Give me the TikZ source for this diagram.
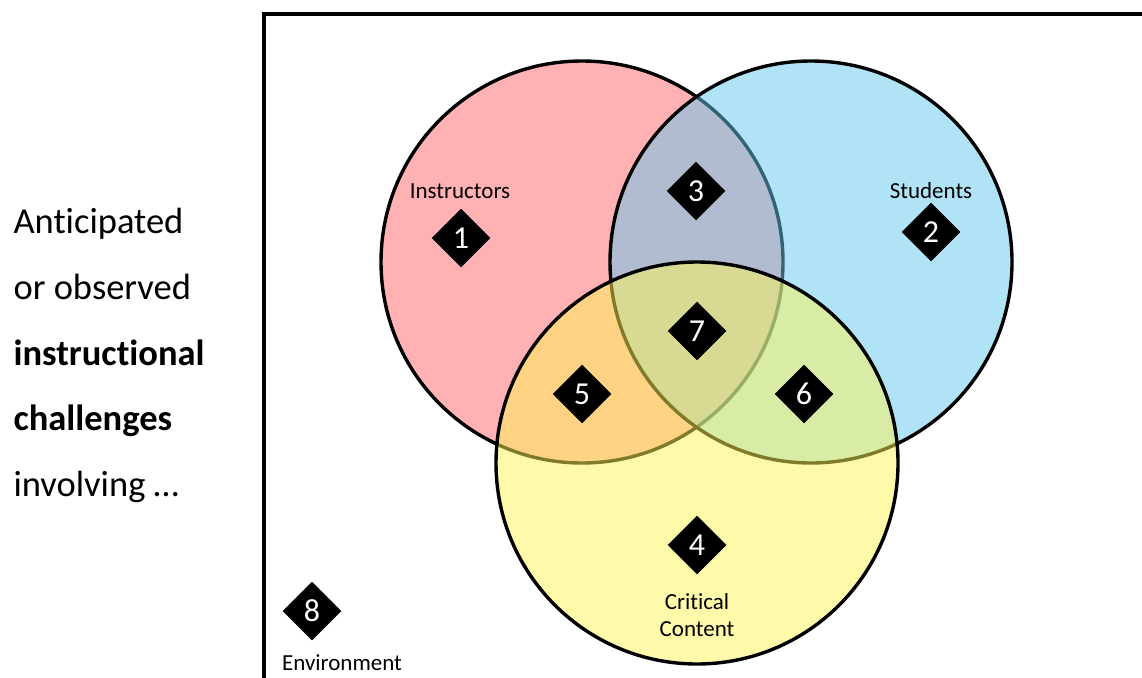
\documentclass[tikz,border=0pt]{standalone}
\usepackage{fontspec}
\setmainfont{Carlito}[Ligatures={NoCommon,NoContextual,NoRequired},RawFeature={-liga;-clig;-dlig}]
\usetikzlibrary{shapes.geometric}
\definecolor{cred}{RGB}{255,100,104}
\definecolor{cblue}{RGB}{100,200,240}
\definecolor{cyellow}{RGB}{255,246,84}
\tikzset{
  venn/.style={circle,draw=black,line width=3.4pt,minimum size=402pt,inner sep=0pt,fill opacity=0.5,draw opacity=1},
  dia/.style={diamond,fill=black,draw=black,line width=0.5pt,minimum width=58pt,minimum height=58pt,inner sep=0pt,aspect=1,text=white,font=\fontsize{32}{32}\selectfont},
  lbl/.style={anchor=base,font=\fontsize{23}{24}\selectfont},
  side/.style={anchor=base west,font=\fontsize{36.5}{40}\selectfont}
}
\begin{document}
\begin{tikzpicture}[x=1pt,y=-1pt]
\useasboundingbox (0,0) rectangle (1142,677);
\fill[white] (0,0) rectangle (1142,677);
\draw[line width=4pt] (264,680) -- (264,14) -- (1146,14);
\node[venn,fill=cred] (inst) at (582,262) {};
\node[venn,fill=cblue] (stud) at (811,262) {};
\node[venn,fill=cyellow] (cont) at (697,463) {};
\node[lbl] (linst) at (460,198) {Instructors};
\node[lbl] (lstud) at (931,198) {Students};
\node[lbl] (lcrit) at (697,609) {Critical};
\node[lbl] (lcont) at (697,636) {Content};
\node[lbl] (lenv) at (342,670) {Environment};
\node[dia] (d1) at (461,238) {1};
\node[dia] (d2) at (931,232) {2};
\node[dia] (d3) at (696,191) {3};
\node[dia] (d4) at (697,545) {4};
\node[dia] (d5) at (582,394) {5};
\node[dia] (d6) at (804,394) {6};
\node[dia] (d7) at (697,331) {7};
\node[dia] (d8) at (312,611) {8};
\node[side] (s1) at (10,233) {Anticipated};
\node[side] (s2) at (10,299) {or observed};
\node[side] (s3) at (10,365) {\textbf{instructional}};
\node[side] (s4) at (10,430) {\textbf{challenges}};
\node[side] (s5) at (10,496) {involving …};
\end{tikzpicture}
\end{document}
